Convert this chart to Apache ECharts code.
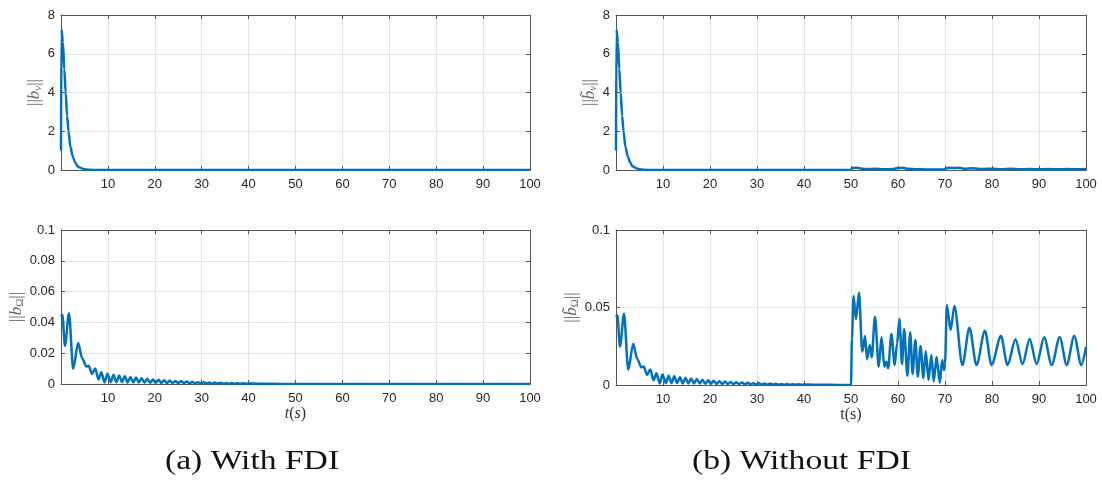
<!DOCTYPE html>
<html>
<head>
<meta charset="utf-8">
<script src="https://cdn.jsdelivr.net/npm/echarts@6/dist/echarts.min.js"></script>
<style>
html,body{margin:0;padding:0;background:#fff;}
#chart{width:1102px;height:485px;}
</style>
</head>
<body>
<div id="chart"></div>
<script>
// ---- data ----
// ||b_v|| (top panels), first 50 s
const tVel = [0, 0.1, 0.4, 0.7, 1.0, 1.3, 1.6, 2.0, 2.5, 3.0, 3.5, 4.0, 4.5, 5.0, 6.0, 8.0, 50];
const vVel = [1.0, 7.26, 6.6, 5.2, 4.0, 2.8, 2.0, 1.2, 0.7, 0.4, 0.2, 0.13, 0.08, 0.04, 0.01, 0, 0];
// ||b~_v|| after the fault at 50 s (panel b top)
const tVelFault = [50.2, 51, 52, 53, 55, 57, 59, 60, 61, 62, 64, 66, 68, 69.8, 70.2, 71, 72, 73, 74, 76, 78, 80, 82, 84, 86, 88, 90, 92, 94, 96, 98, 100];
const vVelFault = [0.1, 0.12, 0.08, 0.05, 0.06, 0.04, 0.05, 0.1, 0.12, 0.06, 0.04, 0.03, 0.03, 0.02, 0.08, 0.12, 0.1, 0.12, 0.07, 0.09, 0.05, 0.07, 0.04, 0.06, 0.04, 0.05, 0.04, 0.05, 0.04, 0.05, 0.04, 0.05];
// ||b_Omega|| first 50 s
const tAng = [0, 0.28, 0.85, 1.7, 2.6, 3.66, 4.5, 5.4, 5.9, 6.6, 7.3, 8.0, 8.6, 9.3, 9.9,
  10.6, 11.2, 11.8, 12.4, 13.0, 13.6, 14.2, 14.8, 15.4, 16.0, 16.6, 17.2, 17.8, 18.4, 19.0, 19.6,
  20.2, 20.8, 21.4, 22.0, 22.6, 23.2, 23.8, 24.4, 25.0, 25.6, 26.2, 26.8, 27.4, 28.0, 28.6, 29.2,
  29.8, 30.4, 31.0, 31.6, 32.2, 32.8, 33.4, 34.0, 34.6, 35.2, 35.8, 36.4, 37.0, 37.6, 38.2, 38.8,
  39.4, 40.0, 42, 45, 50];
const vAng = [0.0438, 0.045, 0.0248, 0.046, 0.0099, 0.0266, 0.0168, 0.0114, 0.0119, 0.0065, 0.010, 0.003, 0.0076, 0.001, 0.0067,
  0.0012, 0.006, 0.0012, 0.0056, 0.0012, 0.005, 0.001, 0.0046, 0.001, 0.0042, 0.001, 0.0038, 0.0009, 0.0034, 0.0008, 0.003,
  0.0008, 0.0028, 0.0007, 0.0025, 0.0007, 0.0022, 0.0006, 0.002, 0.0005, 0.0018, 0.0005, 0.0016, 0.0004, 0.0014, 0.0004, 0.0012,
  0.0003, 0.0011, 0.0003, 0.001, 0.0003, 0.0009, 0.0002, 0.0008, 0.0002, 0.0007, 0.0002, 0.0006, 0.0002, 0.0005, 0.0001, 0.0005,
  0.0001, 0.0004, 0.0002, 0.0001, 0];
// ||b~_Omega|| after the fault at 50 s (panel b bottom)
const tAngFault = [50.2, 50.55, 51.06, 51.7, 52.4, 53.0, 53.4, 54.0, 54.4, 55.1, 55.9, 56.5, 57.1, 57.5, 57.9, 58.6, 59.3, 59.8, 60.3, 60.85,
  61.3, 62.0, 62.6, 63.1, 63.7, 64.2, 64.8, 65.4, 65.9, 66.5, 67.1, 67.6, 68.2, 68.9, 69.4, 69.8, 70.0, 70.4, 71.2, 72.0,
  73.7, 75.2, 76.7, 78.5, 79.9, 81.9, 83.3, 85.0, 86.5, 88.0, 89.5, 91.1, 92.7, 94.4, 95.9, 97.5, 99.0, 100];
const vAngFault = [0.03, 0.0574, 0.0424, 0.0596, 0.0215, 0.0316, 0.0166, 0.0258, 0.0178, 0.0441, 0.0118, 0.0308, 0.0118, 0.015, 0.0108, 0.0329, 0.0129, 0.0269, 0.0426, 0.0135,
  0.0361, 0.006, 0.034, 0.0071, 0.029, 0.0054, 0.0252, 0.0043, 0.022, 0.0032, 0.0194, 0.0022, 0.0183, 0.0015, 0.0161, 0.0097, 0.014, 0.0516, 0.0355, 0.051,
  0.0129, 0.037, 0.0129, 0.035, 0.0129, 0.0316, 0.0129, 0.0295, 0.0135, 0.0297, 0.0135, 0.0308, 0.0129, 0.0308, 0.0129, 0.0316, 0.0129, 0.0247];
const xTicks = {min: 0, max: 100, interval: 10};
const yTopTicks = {min: 0, max: 8, interval: 2};
const yBotTicksA = {min: 0, max: 0.1, interval: 0.02};
const yBotTicksB = {min: 0, max: 0.1, interval: 0.05};
const captions = ['(a) With FDI', '(b) Without FDI'];

// ---- build ----
function zip(t, v) { return t.map((x, i) => [x, v[i]]); }
const velA = zip(tVel, vVel).concat([[100, 0]]);
const velB = zip(tVel, vVel).concat(zip(tVelFault, vVelFault));
const angA = zip(tAng, vAng).concat([[100, 0]]);
const angB = zip(tAng, vAng).concat(zip(tAngFault, vAngFault));

const AX = '#555';
const LBL = '#262626';
const SANS = 'Liberation Sans';
const SERIF = 'Liberation Serif';
const rich = {
  n: {fontFamily: SERIF, fontSize: 17, color: '#666'},
  i: {fontFamily: SERIF, fontSize: 17, fontStyle: 'italic', color: '#666'},
  s: {fontFamily: SERIF, fontSize: 11, fontStyle: 'italic', color: '#666', padding: [7, 0, 0, 0]},
  su: {fontFamily: SERIF, fontSize: 11, color: '#666', padding: [7, 0, 0, 0]},
  xn: {fontFamily: SERIF, fontSize: 16, color: '#333'},
  xi: {fontFamily: SERIF, fontSize: 16, fontStyle: 'italic', color: '#333'}
};
const tick = {show: true, inside: false, length: -4, lineStyle: {color: AX}};

function xAxes(grid, name) {
  return [{
    gridIndex: grid, type: 'value', ...xTicks, position: 'bottom',
    name: name, nameLocation: 'middle', nameGap: 17, nameTextStyle: {rich: rich},
    axisLine: {show: true, onZero: false, lineStyle: {color: AX, width: 1}},
    axisTick: tick,
    axisLabel: {color: LBL, fontFamily: SANS, fontSize: 13, margin: 8, formatter: v => v === 0 ? '' : String(v)},
    splitLine: {show: true, lineStyle: {color: '#e3e3e3', width: 1}}
  }, {
    gridIndex: grid, type: 'value', ...xTicks, position: 'top',
    axisLine: {show: true, onZero: false, lineStyle: {color: AX, width: 1}},
    axisTick: tick,
    axisLabel: {show: false}, splitLine: {show: false}
  }];
}
function yAxes(grid, ticks, name, gap) {
  return [{
    gridIndex: grid, type: 'value', ...ticks, position: 'left',
    name: name, nameLocation: 'middle', nameGap: gap, nameRotate: 90, nameTextStyle: {rich: rich},
    axisLine: {show: true, onZero: false, lineStyle: {color: AX, width: 1}},
    axisTick: tick,
    axisLabel: {color: LBL, fontFamily: SANS, fontSize: 13, margin: 6},
    splitLine: {show: true, lineStyle: {color: '#e3e3e3', width: 1}}
  }, {
    gridIndex: grid, type: 'value', ...ticks, position: 'right',
    axisLine: {show: true, onZero: false, lineStyle: {color: AX, width: 1}},
    axisTick: tick,
    axisLabel: {show: false}, splitLine: {show: false}
  }];
}
function line(idx, data) {
  return {
    type: 'line', xAxisIndex: idx * 2, yAxisIndex: idx * 2, data: data,
    showSymbol: false, smooth: 0.3, smoothMonotone: 'x',
    lineStyle: {color: '#0072BD', width: 2.5}, itemStyle: {color: '#0072BD'}, animation: false
  };
}

const option = {
  backgroundColor: '#fff',
  animation: false,
  grid: [
    {left: 61, top: 15, width: 469, height: 155},
    {left: 61, top: 230, width: 469, height: 154},
    {left: 616, top: 15, width: 470, height: 155},
    {left: 616, top: 230, width: 470, height: 155}
  ],
  xAxis: [].concat(
    xAxes(0, ''),
    xAxes(1, '{xi|t}{xn|(}{xi|s}{xn|)}'),
    xAxes(2, ''),
    xAxes(3, '{xn|t(s)}')
  ),
  yAxis: [].concat(
    yAxes(0, yTopTicks, '{n|||}{i|b}{s|v}{n|||}', 15),
    yAxes(1, yBotTicksA, '{n|||}{i|b}{su|Ω}{n|||}', 35),
    yAxes(2, yTopTicks, '{n|||}{i|b̃}{s|v}{n|||}', 16),
    yAxes(3, yBotTicksB, '{n|||}{i|b̃}{su|Ω}{n|||}', 33)
  ),
  series: [line(0, velA), line(1, angA), line(2, velB), line(3, angB)],
  graphic: [
    {type: 'text', left: 165, top: 448, scaleX: 1.2, style: {text: captions[0], fontFamily: SERIF, fontSize: 28, fill: '#111'}},
    {type: 'text', left: 692, top: 448, scaleX: 1.2, style: {text: captions[1], fontFamily: SERIF, fontSize: 28, fill: '#111'}}
  ]
};
const chart = echarts.init(document.getElementById('chart'), null, {renderer: 'canvas'});
chart.setOption(option);
</script>
</body>
</html>
